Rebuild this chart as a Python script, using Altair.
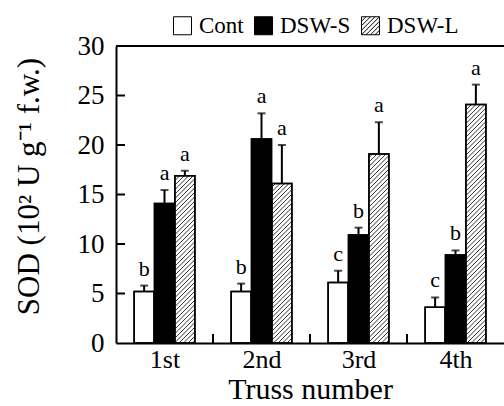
import altair as alt
import pandas as pd

# ---------------- data ----------------
groups = ["1st", "2nd", "3rd", "4th"]
treatments = ["Cont", "DSW-S", "DSW-L"]
cont = [5.2, 5.2, 6.1, 3.6]
cont_err = [0.6, 0.8, 1.2, 1.0]
cont_letters = ["b", "b", "c", "c"]
dsws = [14.1, 20.6, 10.9, 8.9]
dsws_err = [1.35, 2.6, 0.75, 0.45]
dsws_letters = ["a", "a", "b", "b"]
dswl = [16.9, 16.1, 19.1, 24.1]
dswl_err = [0.5, 3.9, 3.2, 2.0]
dswl_letters = ["a", "a", "a", "a"]
y_ticks = [0, 5, 10, 15, 20, 25, 30]

# ---------------- layout ----------------
W, H = 388, 297
XMAX, YMAX = 4, 30
PX_X = W / XMAX
PX_Y = H / YMAX
BAR_W = 0.206
OFFS = {"Cont": -0.21, "DSW-S": 0.0, "DSW-L": 0.21}
FONT = "Liberation Serif"

rows = []
for t, vals, errs, lets in [("Cont", cont, cont_err, cont_letters),
                            ("DSW-S", dsws, dsws_err, dsws_letters),
                            ("DSW-L", dswl, dswl_err, dswl_letters)]:
    for i, g in enumerate(groups):
        c = i + 0.5 + OFFS[t]
        rows.append(dict(group=g, treatment=t, value=vals[i], err=errs[i],
                         top=vals[i] + errs[i], letter=lets[i],
                         xc=c, x0=c - BAR_W / 2, x1=c + BAR_W / 2,
                         half=vals[i] / 2, zero=0))
df = pd.DataFrame(rows)

# hatch lines for DSW-L bars ("/" at 45 degrees in pixel space)
SP = 4.5
hatch = []
for _, r in df[df.treatment == "DSW-L"].iterrows():
    x0p, x1p = r.x0 * PX_X, r.x1 * PX_X
    topp = r.value * PX_Y
    kmin = int((0 - x1p) // SP) - 1
    kmax = int((topp - x0p) // SP) + 1
    for n in range(kmin, kmax + 1):
        k = n * SP
        xa = max(x0p, -k)
        xb = min(x1p, topp - k)
        if xb - xa > 0.6:
            hatch.append(dict(hx0=xa / PX_X, hy0=(xa + k) / PX_Y,
                              hx1=xb / PX_X, hy1=(xb + k) / PX_Y))
hdf = pd.DataFrame(hatch)

SQ = "M-1,-1H1V1H-1Z"
HATCH_SYM = (SQ + " M-1,-0.5L-0.5,-1 M-1,0L0,-1 M-1,0.5L0.5,-1 M-1,1L1,-1"
             " M-0.5,1L1,-0.5 M0,1L1,0 M0.5,1L1,0.5")

xscale = alt.Scale(domain=[0, XMAX], nice=False, zero=False)
yscale = alt.Scale(domain=[0, YMAX], nice=False)
fill_scale = alt.Scale(domain=treatments, range=["white", "black", "white"])
stroke_scale = alt.Scale(domain=treatments, range=["black", "black", "black"])
shape_scale = alt.Scale(domain=treatments, range=[SQ, SQ, HATCH_SYM])

XT = "Truss number"
YT = "SOD (10² U g⁻¹ f.w.)"
xaxis = alt.Axis(values=[0.5, 1.5, 2.5, 3.5],
                 labelExpr="['1st','2nd','3rd','4th'][floor(datum.value)]",
                 ticks=False, grid=False, domainColor="black",
                 domainWidth=2, labelFont=FONT, labelFontSize=26,
                 labelColor="black", labelPadding=3,
                 titleFont=FONT, titleFontSize=30,
                 titleFontWeight="normal", titleColor="black",
                 titlePadding=2)
yaxis = alt.Axis(values=y_ticks, ticks=False, grid=False,
                 domainColor="black", domainWidth=2,
                 labelFont=FONT, labelFontSize=27, labelColor="black",
                 labelPadding=12, titleFont=FONT, titleFontSize=31,
                 titleFontWeight="normal", titleColor="black",
                 titlePadding=32, titleY=140)


def X(f):
    return alt.X(f, scale=xscale, axis=xaxis, title=XT)


def Y(f):
    return alt.Y(f, scale=yscale, axis=yaxis, title=YT)


legend = alt.Legend(title=None, orient="none", legendX=55, legendY=-32,
                    direction="horizontal", symbolSize=324,
                    symbolStrokeColor="black", symbolStrokeWidth=1,
                    symbolOpacity=1,
                    labelFont=FONT, labelFontSize=23, labelColor="black",
                    labelOffset=5, columnPadding=8, padding=0)

base = alt.Chart(df)

pts = base.mark_point(filled=True, size=10, opacity=1,
                      strokeWidth=1).encode(
    x=X("xc:Q"),
    y=Y("half:Q"),
    fill=alt.Fill("treatment:N", scale=fill_scale, legend=legend),
    stroke=alt.Stroke("treatment:N", scale=stroke_scale, legend=legend),
    shape=alt.Shape("treatment:N", scale=shape_scale, legend=legend),
)

bars = base.mark_bar(strokeWidth=1.5).encode(
    x=X("x0:Q"), x2="x1:Q",
    y=Y("value:Q"), y2="zero:Q",
    fill=alt.Fill("treatment:N", scale=fill_scale, legend=legend),
    stroke=alt.Stroke("treatment:N", scale=stroke_scale, legend=legend),
)

hatch_layer = alt.Chart(hdf).mark_rule(color="black", strokeWidth=0.8).encode(
    x=X("hx0:Q"), x2="hx1:Q",
    y=Y("hy0:Q"), y2="hy1:Q",
)

outline = base.mark_bar(fillOpacity=0, stroke="black", strokeWidth=1.5).encode(
    x=X("x0:Q"), x2="x1:Q",
    y=Y("value:Q"), y2="zero:Q",
)

err = base.mark_rule(color="black", strokeWidth=2).encode(
    x=X("xc:Q"),
    y=Y("value:Q"), y2="top:Q",
)

caps = base.mark_tick(orient="horizontal", color="black", size=8,
                      thickness=2).encode(
    x=X("xc:Q"),
    y=Y("top:Q"),
)

letters = base.mark_text(font=FONT, fontSize=22, color="black",
                         baseline="bottom", dy=-5).encode(
    x=X("xc:Q"),
    y=Y("top:Q"),
    text="letter:N",
)

ytick_df = pd.DataFrame({"t": y_ticks[1:-1]})
yticks = alt.Chart(ytick_df).mark_rule(color="black", strokeWidth=2).encode(
    y=Y("t:Q"),
    x=alt.value(0), x2=alt.value(9),
)

xtick_df = pd.DataFrame({"b": [1, 2, 3]})
xticks = alt.Chart(xtick_df).mark_rule(color="black", strokeWidth=2).encode(
    x=X("b:Q"),
    y=alt.value(H), y2=alt.value(H - 9),
)

top_df = pd.DataFrame({"y": [YMAX]})
topline = alt.Chart(top_df).mark_rule(color="black", strokeWidth=2).encode(
    y=Y("y:Q"),
    x=alt.value(0), x2=alt.value(W),
)

chart = alt.layer(pts, bars, hatch_layer, outline, err, caps, letters,
                  yticks, xticks, topline).properties(
    width=W, height=H,
    autosize=alt.AutoSizeParams(type="none"),
    padding={"left": 116, "top": 46, "right": 0, "bottom": 63},
    background="white",
).configure_view(stroke=None)

chart.save("out.html", embed_options={"renderer": "svg", "actions": False})
